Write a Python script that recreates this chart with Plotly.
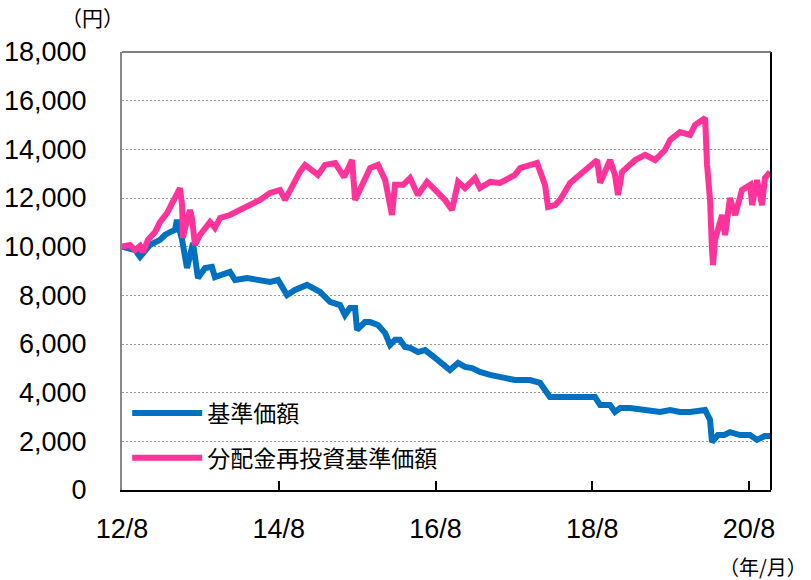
import plotly.graph_objects as go

# ---- data ----
base_dates = [
    "2012-08-01", "2012-10-01", "2012-10-24", "2012-12-09", "2013-01-25", "2013-02-17",
    "2013-03-13", "2013-04-05", "2013-04-14", "2013-05-08", "2013-05-31", "2013-06-28",
    "2013-07-21", "2013-08-23", "2013-09-24", "2013-10-08", "2013-12-17", "2014-01-10",
    "2014-03-07", "2014-05-06", "2014-06-22", "2014-07-29", "2014-09-09", "2014-10-16",
    "2014-12-11", "2015-02-10", "2015-03-28", "2015-05-14", "2015-06-06", "2015-06-29",
    "2015-07-23", "2015-08-01", "2015-09-07", "2015-10-01", "2015-11-07", "2015-12-10",
    "2016-01-02", "2016-01-25", "2016-02-17", "2016-03-12", "2016-04-04", "2016-05-11",
    "2016-06-13", "2016-07-30", "2016-09-14", "2016-10-07", "2016-11-14", "2016-12-16",
    "2017-01-18", "2017-02-24", "2017-04-12", "2017-05-28", "2017-07-14", "2017-08-06",
    "2017-09-13", "2017-10-15", "2017-12-01", "2017-12-24", "2018-01-16", "2018-02-09",
    "2018-03-27", "2018-06-05", "2018-08-14", "2018-09-07", "2018-10-23", "2018-11-15",
    "2018-12-09", "2019-01-24", "2019-04-27", "2019-06-13", "2019-07-30", "2019-09-14",
    "2019-10-31", "2020-01-09", "2020-02-01", "2020-02-10", "2020-03-09", "2020-04-07",
    "2020-05-04", "2020-06-20", "2020-08-05", "2020-09-07", "2020-10-14", "2020-11-07",
]
base_values = [
    10000, 9860, 9580, 10070, 10280, 10480,
    10600, 10690, 11100, 10280, 9120, 10150,
    8710, 9120, 9170, 8750, 8960, 8630,
    8710, 8630, 8550, 8630, 8010, 8220,
    8430, 8140, 7730, 7600, 7190, 7480,
    7480, 6580, 6900, 6900, 6780, 6450,
    5960, 6170, 6170, 5880, 5840, 5670,
    5750, 5430, 5100, 4930, 5220, 5060,
    5010, 4850, 4730, 4640, 4600, 4520,
    4520, 4520, 4400, 4110, 3820, 3820,
    3820, 3820, 3820, 3490, 3490, 3210,
    3370, 3370, 3290, 3210, 3290, 3210,
    3210, 3290, 2880, 1970, 2260, 2260,
    2380, 2260, 2260, 2060, 2220, 2220,
]

reinv_dates = [
    "2012-08-01", "2012-09-07", "2012-10-01", "2012-10-24", "2012-11-07", "2012-11-30",
    "2013-01-02", "2013-01-25", "2013-02-27", "2013-03-22", "2013-04-19", "2013-04-28",
    "2013-05-08", "2013-05-12", "2013-05-22", "2013-06-14", "2013-06-23", "2013-07-07",
    "2013-07-30", "2013-08-23", "2013-09-15", "2013-10-08", "2013-11-01", "2013-12-17",
    "2014-02-02", "2014-03-20", "2014-05-06", "2014-06-22", "2014-08-07", "2014-08-31",
    "2014-09-23", "2014-11-08", "2014-12-02", "2014-12-25", "2015-01-31", "2015-03-05",
    "2015-04-21", "2015-06-02", "2015-07-09", "2015-07-23", "2015-08-24", "2015-10-01",
    "2015-11-07", "2015-12-10", "2016-01-11", "2016-01-25", "2016-03-03", "2016-04-04",
    "2016-05-11", "2016-06-22", "2016-07-30", "2016-09-14", "2016-10-17", "2016-11-14",
    "2016-12-16", "2017-02-01", "2017-02-24", "2017-04-12", "2017-05-28", "2017-07-05",
    "2017-08-06", "2017-08-30", "2017-10-15", "2017-11-17", "2017-12-24", "2018-01-07",
    "2018-02-09", "2018-03-04", "2018-04-20", "2018-06-05", "2018-07-22", "2018-08-24",
    "2018-09-07", "2018-09-30", "2018-10-23", "2018-11-15", "2018-11-29", "2018-12-18",
    "2019-02-17", "2019-04-04", "2019-05-21", "2019-07-06", "2019-07-30", "2019-09-14",
    "2019-10-31", "2019-11-23", "2019-12-17", "2020-01-09", "2020-01-18", "2020-02-01",
    "2020-02-10", "2020-02-15", "2020-02-24", "2020-03-28", "2020-04-11", "2020-04-25",
    "2020-05-04", "2020-05-28", "2020-06-29", "2020-08-06", "2020-08-15", "2020-09-07",
    "2020-09-30", "2020-10-14", "2020-11-07",
]
reinv_values = [
    10000, 10070, 9860, 10030, 9780, 10280,
    10600, 11010, 11380, 11800, 12330, 12410,
    11710, 10360, 10770, 11510, 11180, 10070,
    10480, 10770, 11010, 10770, 11180, 11300,
    11510, 11710, 11920, 12210, 12330, 11920,
    12330, 13070, 13360, 13230, 12950, 13360,
    13440, 12860, 13560, 11920, 12540, 13230,
    13360, 12740, 11300, 12540, 12540, 12820,
    12120, 12660, 12330, 11920, 11510, 12660,
    12410, 12820, 12410, 12660, 12620, 12820,
    12950, 13230, 13360, 13440, 12540, 11630,
    11710, 11920, 12620, 12950, 13360, 13560,
    12620, 13070, 13560, 12950, 12120, 13070,
    13560, 13770, 13560, 13970, 14390, 14710,
    14590, 15000, 15120, 15290, 13360, 11920,
    9860, 9250, 10280, 11300, 10480, 11510,
    12000, 11300, 12330, 12540, 11710, 12740,
    11710, 12820, 13070,
]

series_names = ["基準価額", "分配金再投資基準価額"]
series_colors = ["#0070C0", "#FF3399"]

x_tick_vals = ["2012-08-01", "2014-08-01", "2016-08-01", "2018-08-01", "2020-08-01"]
x_tick_text = ["12/8", "14/8", "16/8", "18/8", "20/8"]
y_tick_vals = [0, 2000, 4000, 6000, 8000, 10000, 12000, 14000, 16000, 18000]
x_range = ["2012-08-01", "2020-11-11"]
y_range = [0, 18000]

NUM_FONT = "Liberation Sans, Arial, sans-serif"
JP_FONT = "Noto Sans CJK JP, sans-serif"

fig = go.Figure()
for name, xs, ys, col in [
    (series_names[0], base_dates, base_values, series_colors[0]),
    (series_names[1], reinv_dates, reinv_values, series_colors[1]),
]:
    fig.add_trace(go.Scatter(
        x=xs, y=ys, mode="lines", name=name, legendgroup=name,
        line=dict(color=col, width=6, shape="linear"),
    ))

fig.update_layout(
    width=811, height=580,
    margin=dict(l=122, r=40, t=52, b=90),
    paper_bgcolor="white", plot_bgcolor="white",
    font=dict(family=NUM_FONT, size=26, color="black"),
    showlegend=True,
    legend=dict(
        x=0.008, y=0.225, xanchor="left", yanchor="top",
        bgcolor="rgba(0,0,0,0)", borderwidth=0,
        font=dict(family=JP_FONT, size=23, color="black"),
        traceorder="grouped", tracegroupgap=12, itemwidth=70,
    ),
    xaxis=dict(
        type="date", range=x_range, automargin=False,
        tickmode="array", tickvals=x_tick_vals, ticktext=x_tick_text,
        ticks="inside", ticklen=9, tickwidth=2, tickcolor="black",
        showline=True, linecolor="black", linewidth=2, mirror=False,
        showgrid=False, zeroline=False,
        ticklabelstandoff=14,
        tickfont=dict(family=NUM_FONT, size=27),
    ),
    yaxis=dict(
        range=y_range, tickmode="array", tickvals=y_tick_vals, automargin=False,
        tickformat=",", ticks="",
        showline=True, linecolor="#888888", linewidth=2,
        showgrid=True, gridcolor="#9a9a9a", gridwidth=1, griddash="2px,2px",
        zeroline=False,
        ticklabelstandoff=28,
        tickfont=dict(family=NUM_FONT, size=27),
    ),
    shapes=[
        dict(type="line", xref="paper", yref="paper", x0=1, x1=1, y0=0, y1=1,
             line=dict(color="black", width=2)),
        dict(type="line", xref="paper", yref="paper", x0=0, x1=1, y0=1, y1=1,
             line=dict(color="#555555", width=1.5)),
    ],
    annotations=[
        dict(text="（円）", xref="paper", yref="paper", x=-0.046, y=1.08,
             xanchor="center", yanchor="middle", showarrow=False,
             font=dict(family=JP_FONT, size=21)),
        dict(text="（年/月）", xref="paper", yref="paper", x=1.058, y=-0.175,
             xanchor="right", yanchor="middle", showarrow=False,
             font=dict(family=JP_FONT, size=20)),
    ],
)

fig.write_html("out.html")
